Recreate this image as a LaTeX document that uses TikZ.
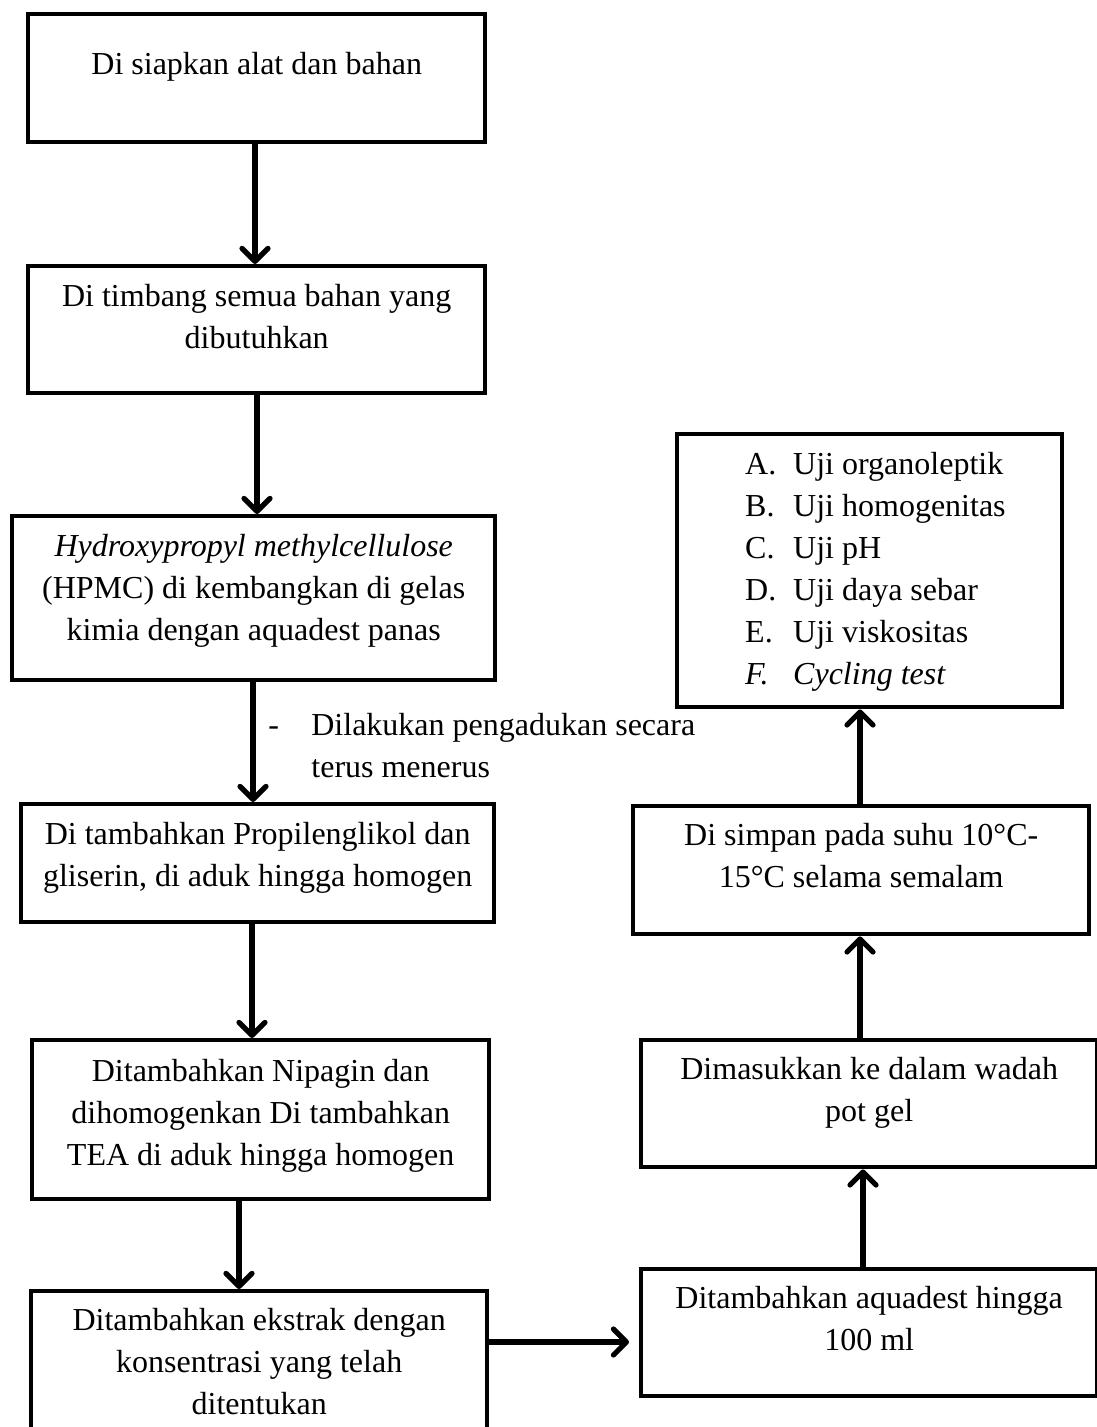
\documentclass[tikz,border=0pt]{standalone}
\usepackage{fontspec}
\setmainfont{Liberation Serif}
\usetikzlibrary{arrows.meta}
% #1 width, #2 height, #3 top gap, #4 text
\newcommand{\bxtext}[4]{\parbox[c][#2][t]{#1}{\centering\vspace*{#3}\strut #4\par}}
\newcommand{\lstitem}[2]{\hspace*{34pt}\makebox[24pt][l]{#1}#2}
\begin{document}
\begin{tikzpicture}[x=0.5pt,y=-0.5pt,
  font=\fontsize{16}{21}\selectfont,
  stepbox/.style={draw=black, line width=2.2pt, inner sep=0pt, anchor=north west, fill=white},
  arr/.style={line width=2.6pt, -{Straight Barb[length=6.5pt,width=13pt,round]}},
  lbl/.style={inner sep=0pt, anchor=base west}]
\fill[white] (0,0) rectangle (1096,1427);
\useasboundingbox (0,0) rectangle (1096,1427);

% left column
\node[stepbox] (b1) at (26,12) {\bxtext{228.5pt}{64pt}{15.3pt}{Di siapkan alat dan bahan}};
\node[stepbox] (b2) at (26,264) {\bxtext{228.5pt}{63.5pt}{5.3pt}{Di timbang semua bahan yang\\dibutuhkan}};
\node[stepbox] (b3) at (10,514) {\bxtext{241.5pt}{82pt}{5.3pt}{\textit{Hydroxypropyl methylcellulose}\\(HPMC) di kembangkan di gelas\\kimia dengan aquadest panas}};
\node[stepbox] (b4) at (19,802) {\bxtext{236.5pt}{59pt}{5.3pt}{Di tambahkan Propilenglikol dan\\gliserin, di aduk hingga homogen}};
\node[stepbox] (b5) at (30,1038) {\bxtext{228.5pt}{79.5pt}{5.8pt}{Ditambahkan Nipagin dan\\dihomogenkan Di tambahkan\\TEA di aduk hingga homogen}};
\node[stepbox] (b6) at (29,1289) {\bxtext{228pt}{79.5pt}{4.8pt}{Ditambahkan ekstrak dengan\\konsentrasi yang telah\\ditentukan}};

% right column
\node[stepbox] (b7) at (639,1267) {\bxtext{228pt}{63.5pt}{4.8pt}{Ditambahkan aquadest hingga\\100 ml}};
\node[stepbox] (b8) at (639,1038) {\bxtext{228pt}{63.5pt}{4.8pt}{Dimasukkan ke dalam wadah\\pot gel}};
\node[stepbox] (b9) at (631,804) {\bxtext{228pt}{64pt}{4.8pt}{Di simpan pada suhu 10°C-\\15°C selama semalam}};
\node[stepbox] (b10) at (675,432) {\parbox[c][136.5pt][t]{192.5pt}{\raggedright\vspace*{5.3pt}\strut
  \lstitem{A.}{Uji organoleptik}\\
  \lstitem{B.}{Uji homogenitas}\\
  \lstitem{C.}{Uji pH}\\
  \lstitem{D.}{Uji daya sebar}\\
  \lstitem{E.}{Uji viskositas}\\
  \lstitem{\textit{F.}}{\textit{Cycling test}}\par}};

% note beside arrow
\node[lbl] (note) at (268,735) {\parbox[t]{220pt}{\raggedright\makebox[21.5pt][l]{-}Dilakukan pengadukan secara\\\hspace*{21.5pt}terus menerus}};

% arrow x positions
\coordinate (c12) at (255,0);
\coordinate (c23) at (257,0);
\coordinate (c34) at (253,0);
\coordinate (c45) at (252,0);
\coordinate (c56) at (239,0);
\coordinate (c67) at (0,1342);
\coordinate (c78) at (863,0);
\coordinate (c89) at (860,0);
\coordinate (c910) at (860,0);

\draw[arr] (b1.south -| c12) -- (b2.north -| c12);
\draw[arr] (b2.south -| c23) -- (b3.north -| c23);
\draw[arr] (b3.south -| c34) -- (b4.north -| c34);
\draw[arr] (b4.south -| c45) -- (b5.north -| c45);
\draw[arr] (b5.south -| c56) -- (b6.north -| c56);
\draw[arr, shorten >=5pt] (b6.east |- c67) -- (b7.west |- c67);
\draw[arr] (b7.north -| c78) -- (b8.south -| c78);
\draw[arr] (b8.north -| c89) -- (b9.south -| c89);
\draw[arr] (b9.north -| c910) -- (b10.south -| c910);
\end{tikzpicture}
\end{document}
